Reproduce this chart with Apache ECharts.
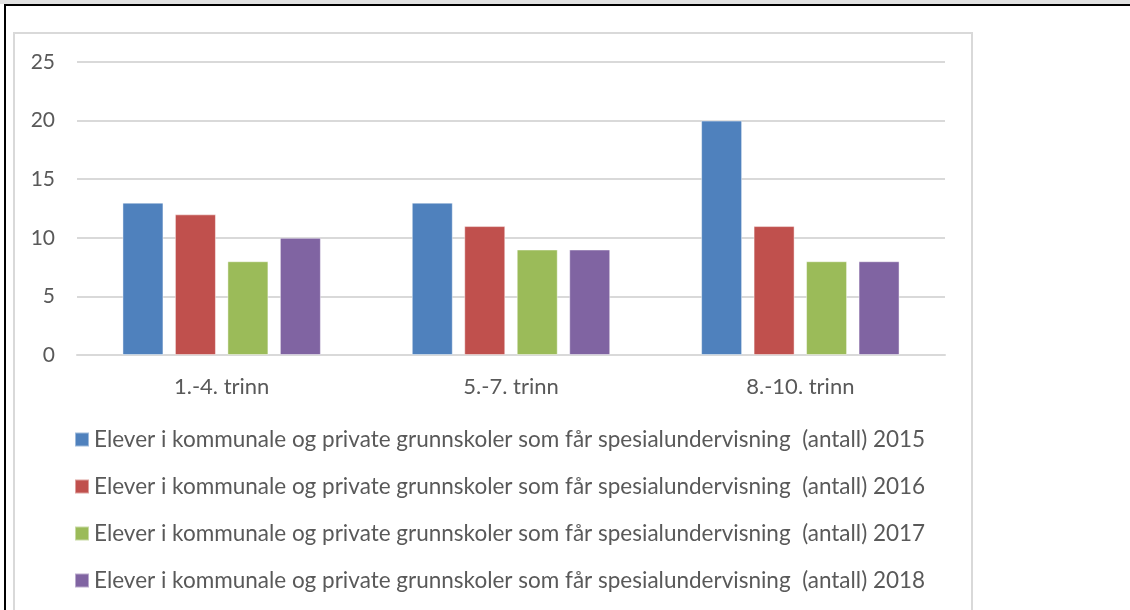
<!DOCTYPE html>
<html>
<head>
<meta charset="utf-8">
<script src="https://cdn.jsdelivr.net/npm/echarts@6/dist/echarts.min.js"></script>
<style>
  html, body { margin: 0; padding: 0; background: #fff; }
  #wrap { position: relative; width: 1130px; height: 610px; overflow: hidden; }
  #band { position: absolute; left: 0; top: 0; width: 1130px; height: 4px; background: #e1e1e1; }
  #topline { position: absolute; left: 4px; top: 4px; width: 1126px; height: 2px; background: #000; }
  #leftline { position: absolute; left: 4px; top: 4px; width: 2px; height: 606px; background: #000; }
  #frame { position: absolute; left: 13px; top: 32px; width: 960px; height: 580px; border: 2px solid #d9d9d9; box-sizing: border-box; }
  #main { position: absolute; left: 0; top: 0; width: 1130px; height: 610px; }
</style>
</head>
<body>
<div id="wrap">
  <div id="band"></div>
  <div id="topline"></div>
  <div id="leftline"></div>
  <div id="frame"></div>
  <div id="main"></div>
</div>
<script>
  // data
  var categories = ['1.-4. trinn', '5.-7. trinn', '8.-10. trinn'];
  var seriesNames = [
    'Elever i kommunale og private grunnskoler som får spesialundervisning  (antall) 2015',
    'Elever i kommunale og private grunnskoler som får spesialundervisning  (antall) 2016',
    'Elever i kommunale og private grunnskoler som får spesialundervisning  (antall) 2017',
    'Elever i kommunale og private grunnskoler som får spesialundervisning  (antall) 2018'
  ];
  var values2015 = [13, 13, 20];
  var values2016 = [12, 11, 11];
  var values2017 = [8, 9, 8];
  var values2018 = [10, 9, 8];
  var colors = ['#4f81bd', '#c0504d', '#9bbb59', '#8064a2'];

  var allValues = [values2015, values2016, values2017, values2018];
  var font = 'Lato, "Open Sans", sans-serif';

  var series = allValues.map(function (vals, i) {
    return {
      name: seriesNames[i],
      type: 'bar',
      data: vals,
      barWidth: 41,
      barGap: '28%',
      itemStyle: { color: colors[i], borderColor: 'rgba(255,255,255,0.45)', borderWidth: 1 },
      emphasis: { disabled: true }
    };
  });

  var chart = echarts.init(document.getElementById('main'), null, { renderer: 'canvas' });
  chart.setOption({
    animation: false,
    color: colors,
    grid: { left: 77, right: 185, top: 62, bottom: 255, containLabel: false },
    legend: {
      orient: 'vertical',
      left: 74,
      top: 428,
      padding: 0,
      itemWidth: 14,
      itemHeight: 14,
      itemGap: 24,
      icon: 'rect',
      textStyle: { fontFamily: font, fontSize: 22.5, color: '#595959', lineHeight: 22 },
      data: seriesNames
    },
    xAxis: {
      type: 'category',
      data: categories,
      axisLine: { lineStyle: { color: '#d9d9d9', width: 2 } },
      axisTick: { show: false },
      axisLabel: { fontFamily: font, fontSize: 22, color: '#595959', margin: 21 }
    },
    yAxis: {
      type: 'value',
      min: 0,
      max: 25,
      interval: 5,
      axisLine: { show: false },
      axisTick: { show: false },
      splitLine: { lineStyle: { color: '#d9d9d9', width: 2 } },
      axisLabel: { fontFamily: font, fontSize: 21, color: '#595959', margin: 22 }
    },
    series: series
  });
</script>
</body>
</html>
